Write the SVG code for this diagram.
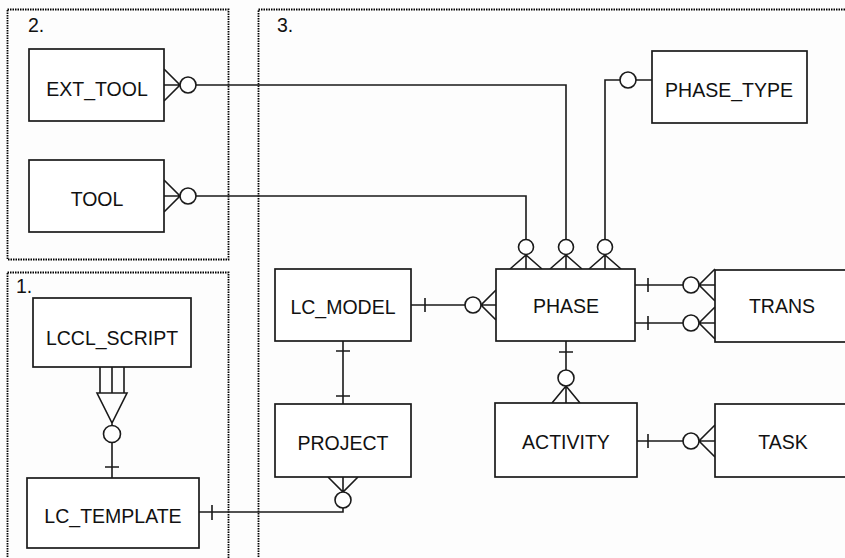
<svg xmlns="http://www.w3.org/2000/svg" width="845" height="558" viewBox="0 0 845 558">
  <style>
    .area { fill: none; stroke: #000; stroke-width: 1.8; stroke-dasharray: 1.5 1; }
    .ent { fill: #fff; stroke: #1a1a1a; stroke-width: 1.7; }
    .lbl { font-family: "Liberation Sans", Arial, sans-serif; font-size: 19.5px; fill: #111; }
    .mid { text-anchor: middle; }
    .ln { fill: none; stroke: #1a1a1a; stroke-width: 1.6; }
    .ring { fill: #fff; stroke: #1a1a1a; stroke-width: 1.6; }
  </style>
  <rect width="845" height="558" fill="#fdfdfd"/>

  <!-- subject areas -->
  <g id="areas">
    <rect class="area" x="7.5" y="9.5" width="221" height="250"/>
    <rect class="area" x="7.5" y="272.5" width="221" height="300"/>
    <rect class="area" x="258.5" y="9.5" width="600" height="560"/>
    <text class="lbl" x="28" y="32">2.</text>
    <text class="lbl" x="16" y="293">1.</text>
    <text class="lbl" x="277" y="32">3.</text>
  </g>

  <!-- relationships -->
  <g id="connectors">
    <!-- EXT_TOOL to PHASE -->
    <path class="ln" d="M164,69 L180,85 L164,101 M164,85 H180 M196,85 H566 V239"/>
    <circle class="ring" cx="188" cy="85" r="8"/>
    <circle class="ring" cx="566" cy="247" r="7.5"/>
    <path class="ln" d="M550,269 L566,255 L582,269 M566,255 V269"/>

    <!-- TOOL to PHASE -->
    <path class="ln" d="M164,180 L180,196 L164,212 M164,196 H180 M196,196 H526 V239"/>
    <circle class="ring" cx="188" cy="196" r="8"/>
    <circle class="ring" cx="526" cy="247" r="7.5"/>
    <path class="ln" d="M510,269 L526,255 L542,269 M526,255 V269"/>

    <!-- PHASE_TYPE to PHASE -->
    <path class="ln" d="M652,80 H636 M620,80 H605 V239"/>
    <circle class="ring" cx="628" cy="80" r="8"/>
    <circle class="ring" cx="605" cy="247" r="7.5"/>
    <path class="ln" d="M589,269 L605,255 L621,269 M605,255 V269"/>

    <!-- LC_MODEL to PHASE -->
    <path class="ln" d="M411,305 H465 M425,298 V312 M481,305 H496 M496,290 L481,305 L496,320"/>
    <circle class="ring" cx="473" cy="305" r="8"/>

    <!-- PHASE to TRANS (two relationships) -->
    <path class="ln" d="M635,285 H683 M648,278 V292 M699,285 H715 M715,269 L699,285 L715,301"/>
    <circle class="ring" cx="691" cy="285" r="8"/>
    <path class="ln" d="M635,323 H683 M648,316 V330 M699,323 H715 M715,307 L699,323 L715,339"/>
    <circle class="ring" cx="691" cy="323" r="8"/>

    <!-- PHASE to ACTIVITY -->
    <path class="ln" d="M566,341 V370 M559,352 H573 M566,386 V403 M552,403 L566,386 L580,403"/>
    <circle class="ring" cx="566" cy="378" r="8"/>

    <!-- ACTIVITY to TASK -->
    <path class="ln" d="M637,441 H683 M648,434 V448 M699,441 H715 M715,425 L699,441 L715,457"/>
    <circle class="ring" cx="691" cy="441" r="8"/>

    <!-- LC_MODEL to PROJECT -->
    <path class="ln" d="M343,341 V404 M336,351 H350 M336,396 H350"/>

    <!-- PROJECT to LC_TEMPLATE -->
    <path class="ln" d="M328,477 L343,492 L358,477 M343,477 V492 M343,508 V512 H199 M212,505 V520"/>
    <circle class="ring" cx="343" cy="500" r="8"/>

    <!-- LCCL_SCRIPT to LC_TEMPLATE (subtype) -->
    <path class="ln" d="M100,367 V393 M112,367 V393 M124,367 V393"/>
    <path class="ln" d="M97,393 H127 L112,423 Z M112,423 V425.5 M112,442.5 V478 M105,467 H119"/>
    <circle class="ring" cx="112" cy="434" r="8.5"/>
  </g>

  <!-- entities -->
  <g id="ext_tool">
    <rect class="ent" x="29" y="49" width="135" height="72"/>
    <text class="lbl mid" x="97" y="96">EXT_TOOL</text>
  </g>
  <g id="tool">
    <rect class="ent" x="29" y="160" width="135" height="72"/>
    <text class="lbl mid" x="97" y="206">TOOL</text>
  </g>
  <g id="phase_type">
    <rect class="ent" x="652" y="51" width="155" height="72"/>
    <text class="lbl mid" x="729" y="97">PHASE_TYPE</text>
  </g>
  <g id="lccl_script">
    <rect class="ent" x="33" y="298" width="158" height="69"/>
    <text class="lbl mid" x="112" y="345">LCCL_SCRIPT</text>
  </g>
  <g id="lc_template">
    <rect class="ent" x="27" y="478" width="172" height="70"/>
    <text class="lbl mid" x="113" y="523">LC_TEMPLATE</text>
  </g>
  <g id="lc_model">
    <rect class="ent" x="275" y="269" width="136" height="72"/>
    <text class="lbl mid" x="343" y="314">LC_MODEL</text>
  </g>
  <g id="project">
    <rect class="ent" x="275" y="404" width="136" height="73"/>
    <text class="lbl mid" x="343" y="450">PROJECT</text>
  </g>
  <g id="phase">
    <rect class="ent" x="496" y="269" width="139" height="72"/>
    <text class="lbl mid" x="566" y="313">PHASE</text>
  </g>
  <g id="trans">
    <rect class="ent" x="715" y="270" width="140" height="72"/>
    <text class="lbl mid" x="782" y="313">TRANS</text>
  </g>
  <g id="activity">
    <rect class="ent" x="495" y="403" width="142" height="74"/>
    <text class="lbl mid" x="566" y="449">ACTIVITY</text>
  </g>
  <g id="task">
    <rect class="ent" x="715" y="404" width="140" height="73"/>
    <text class="lbl mid" x="783" y="449">TASK</text>
  </g>
</svg>
